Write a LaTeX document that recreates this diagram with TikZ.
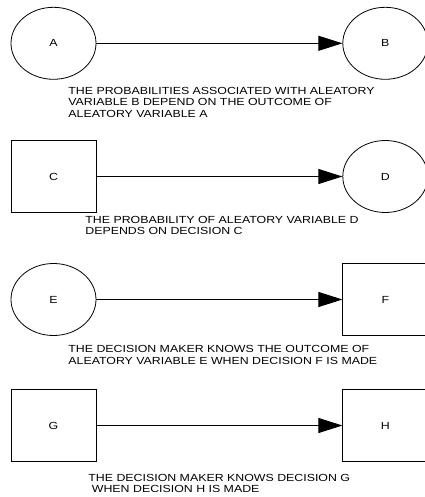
\documentclass[tikz,border=0pt]{standalone}
\usepackage{fontspec}
\setmainfont{Liberation Sans}[FakeStretch=1.2]
\usepackage{tikz}
\usetikzlibrary{arrows.meta, positioning, shapes.geometric}

\begin{document}
\begin{tikzpicture}[
    x=1pt, y=-1pt,
    font=\fontsize{10.3}{11.3}\selectfont,
    line width=0.8pt,
    node distance=246pt,
    chance/.style={draw, ellipse, minimum width=85pt, minimum height=72pt,
                   inner sep=0pt},
    decision/.style={draw, rectangle, minimum width=85pt, minimum height=72pt,
                     inner sep=0pt},
    note/.style={anchor=north west, align=left, inner sep=0pt},
    arrow/.style={-{Triangle[length=24pt, width=15pt]}}
]
\useasboundingbox (0,0) rectangle (424,497);

% --- Chance -> chance ---
\node[chance] (A) at (53.5,43.3) {A};
\node[chance, right=of A] (B) {B};
\draw[arrow] (A) -- (B);
\node[note] (noteAB) at (68,87)
     {THE PROBABILITIES ASSOCIATED WITH ALEATORY\\
      VARIABLE B DEPEND ON THE OUTCOME OF\\
      ALEATORY VARIABLE A};

% --- Decision -> chance ---
\node[decision] (C) at (53.5,176.5) {C};
\node[chance, right=of C] (D) {D};
\draw[arrow] (C) -- (D);
\node[note] (noteCD) at (85,215.6)
     {THE PROBABILITY OF ALEATORY VARIABLE D\\
      DEPENDS ON DECISION C};

% --- Chance -> decision ---
\node[chance] (E) at (53.5,299.5) {E};
\node[decision, right=of E] (F) {F};
\draw[arrow] (E) -- (F);
\node[note] (noteEF) at (68,345.3)
     {THE DECISION MAKER KNOWS THE OUTCOME OF\\
      ALEATORY VARIABLE E WHEN DECISION F IS MADE};

% --- Decision -> decision ---
\node[decision] (G) at (53.5,425.5) {G};
\node[decision, right=of G] (H) {H};
\draw[arrow] (G) -- (H);
\node[note] (noteGH) at (88,473.6)
     {THE DECISION MAKER KNOWS DECISION G\\
      \hspace{3.5pt}WHEN DECISION H IS MADE};

\end{tikzpicture}
\end{document}
